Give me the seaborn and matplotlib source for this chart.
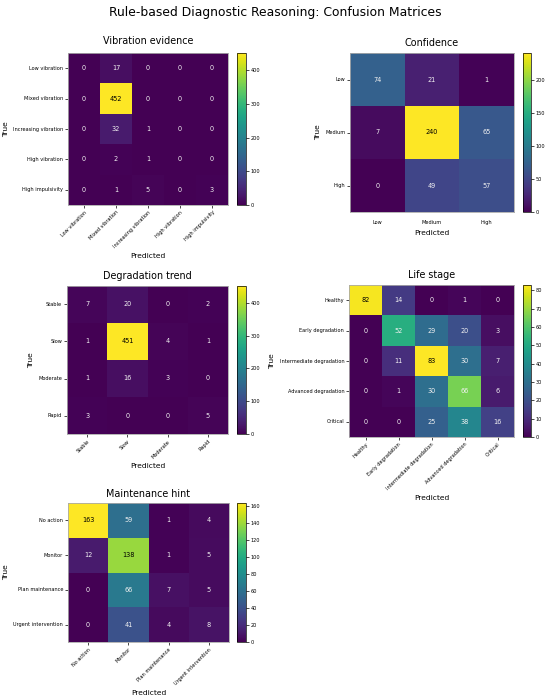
import numpy as np
import pandas as pd
import matplotlib
matplotlib.use("Agg")
import matplotlib.pyplot as plt
import seaborn as sns

vib_labels = ["Low vibration", "Mixed vibration", "Increasing vibration", "High vibration", "High impulsivity"]
vib_values = [[0, 17, 0, 0, 0],
              [0, 452, 0, 0, 0],
              [0, 32, 1, 0, 0],
              [0, 2, 1, 0, 0],
              [0, 1, 5, 0, 3]]

conf_labels = ["Low", "Medium", "High"]
conf_values = [[74, 21, 1],
               [7, 240, 65],
               [0, 49, 57]]

deg_labels = ["Stable", "Slow", "Moderate", "Rapid"]
deg_values = [[7, 20, 0, 2],
              [1, 451, 4, 1],
              [1, 16, 3, 0],
              [3, 0, 0, 5]]

life_labels = ["Healthy", "Early degradation", "Intermediate degradation", "Advanced degradation", "Critical"]
life_values = [[82, 14, 0, 1, 0],
               [0, 52, 29, 20, 3],
               [0, 11, 83, 30, 7],
               [0, 1, 30, 66, 6],
               [0, 0, 25, 38, 16]]

maint_labels = ["No action", "Monitor", "Plan maintenance", "Urgent intervention"]
maint_values = [[163, 59, 1, 4],
                [12, 138, 1, 5],
                [0, 66, 7, 5],
                [0, 41, 4, 8]]

W, H = 550, 698
fig = plt.figure(figsize=(W / 100, H / 100), dpi=100)
plt.rcParams['font.family'] = ['DejaVu Sans']

def box(x0, x1, y0, y1):
    return [x0 / W, 1 - y1 / H, (x1 - x0) / W, (y1 - y0) / H]

panels = [
    ("Vibration evidence", vib_labels, vib_values, (68, 228, 53, 205), (237, 246), 45, 6.5),
    ("Confidence", conf_labels, conf_values, (350, 514, 53, 212), (523, 531), 0, 5),
    ("Degradation trend", deg_labels, deg_values, (67, 228, 286, 434), (237, 246), 45, 5),
    ("Life stage", life_labels, life_values, (349, 514, 285, 437), (523, 531), 45, 5),
    ("Maintenance hint", maint_labels, maint_values, (68, 229, 503, 642), (237, 246), 45, 4.5),
]

for title, labels, values, (x0, x1, y0, y1), (c0, c1), rot, tpad in panels:
    ax = fig.add_axes(box(x0, x1, y0, y1))
    cax = fig.add_axes(box(c0, c1, y0, y1))
    df = pd.DataFrame(values, index=labels, columns=labels)
    sns.heatmap(df, ax=ax, cbar_ax=cax, cmap="viridis", annot=True, fmt="d",
                annot_kws={"fontsize": 4.7})
    vmax = df.values.max()
    for t in ax.texts:
        v = float(t.get_text())
        t.set_color("black" if v > 0.8 * vmax else "#f2f2f2")
    for s in ax.spines.values():
        s.set_visible(True)
        s.set_color("#aaaaaa")
        s.set_linewidth(0.6)
    ax.set_title(title, fontsize=6.9, pad=tpad)
    ax.set_xlabel("Predicted", fontsize=5.4, labelpad=3)
    ax.set_ylabel("True", fontsize=5.4, labelpad=3)
    ax.tick_params(axis="both", labelsize=3.6, length=2, width=0.5, pad=1.5)
    ax.set_yticklabels(labels, rotation=0)
    if rot:
        ax.set_xticklabels(labels, rotation=45, ha="right", rotation_mode="anchor")
    else:
        ax.set_xticklabels(labels, rotation=0)
        ax.tick_params(axis="x", length=0, pad=6)
    cax.tick_params(labelsize=3.6, length=2, width=0.5, pad=1.5)
    for s in cax.spines.values():
        s.set_linewidth(0.5)

fig.suptitle("Rule-based Diagnostic Reasoning: Confusion Matrices", fontsize=8.9, y=0.992)
fig.savefig("out.png", dpi=100)
